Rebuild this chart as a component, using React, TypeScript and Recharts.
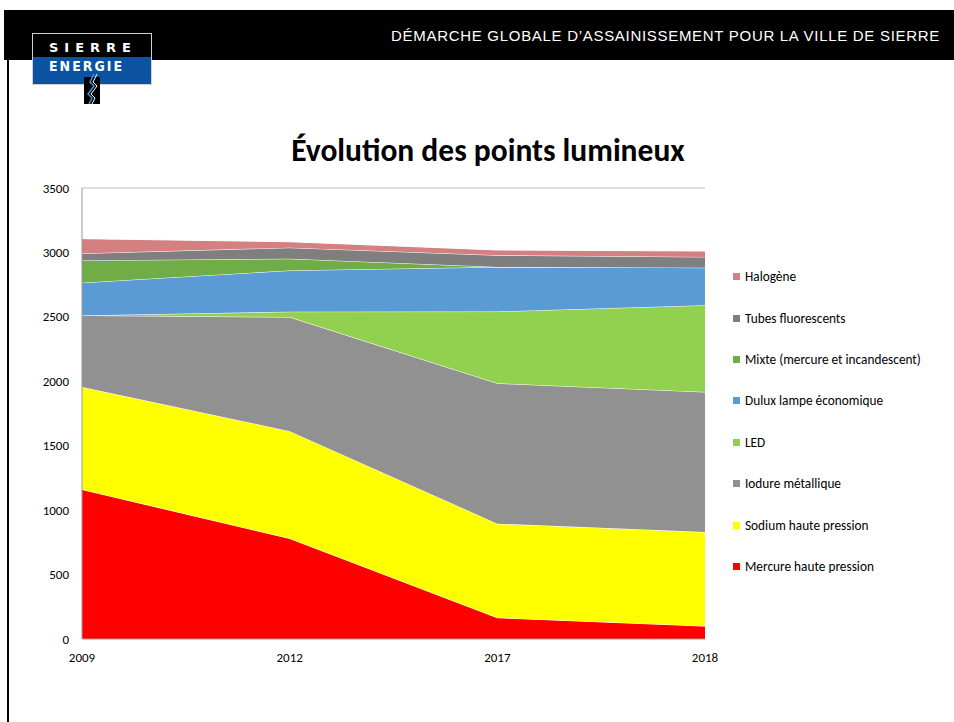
import React from 'react';
import { AreaChart, Area, XAxis, YAxis, Legend, ReferenceLine } from 'recharts';

const years = ['2009', '2012', '2017', '2018'];
const mercure = [1160, 780, 165, 100];
const sodium = [795, 833, 730, 730];
const iodure = [556, 885, 1089, 1087];
const led = [0, 42, 557, 673];
const dulux = [254, 320, 346, 292];
const mixte = [173, 91, 0, 0];
const tubes = [54, 86, 91, 83];
const halogene = [115, 46, 41, 46];
const yTicks = [0, 500, 1000, 1500, 2000, 2500, 3000, 3500];

const seriesNames = [
  'Mercure haute pression',
  'Sodium haute pression',
  'Iodure métallique',
  'LED',
  'Dulux lampe économique',
  'Mixte (mercure et incandescent)',
  'Tubes fluorescents',
  'Halogène',
];
const seriesValues = [mercure, sodium, iodure, led, dulux, mixte, tubes, halogene];
const seriesColors = ['#FF0000', '#FFFF00', '#919191', '#92D050', '#5B9BD5', '#70AD47', '#7F7F7F', '#D48080'];

const chartTitle = 'Évolution des points lumineux';
const headerText = 'DÉMARCHE GLOBALE D’ASSAINISSEMENT POUR LA VILLE DE SIERRE';

const data = years.map((y, i) => {
  const row: Record<string, string | number> = { year: y };
  seriesNames.forEach((n, k) => {
    row[n] = seriesValues[k][i];
  });
  return row;
});

const FONT = "Carlito, Lato, 'Open Sans', sans-serif";

const LegendContent = (props: any) => {
  const payload = [...(props.payload || [])].sort(
    (a: any, b: any) => seriesNames.indexOf(b.value) - seriesNames.indexOf(a.value)
  );
  return (
    <div style={{ fontFamily: FONT, fontSize: 13.3, color: '#000' }}>
      {payload.map((p: any) => (
        <div key={p.value} style={{ height: 41.4, display: 'flex', alignItems: 'center', whiteSpace: 'nowrap' }}>
          <span
            style={{
              display: 'inline-block',
              width: 7,
              height: 7,
              background: seriesColors[seriesNames.indexOf(p.value)],
              marginRight: 5,
            }}
          />
          <span>{p.value}</span>
        </div>
      ))}
    </div>
  );
};

export default function App() {
  return (
    <div style={{ position: 'absolute', left: 0, top: 0, width: 954, height: 722, background: '#fff', overflow: 'hidden' }}>
      {/* header band */}
      <div style={{ position: 'absolute', left: 4, top: 10, width: 950, height: 50, background: '#000' }} />
      <div
        style={{
          position: 'absolute',
          right: 14,
          top: 27,
          color: '#fff',
          fontFamily: "'Liberation Sans Narrow', 'Liberation Sans', sans-serif",
          fontSize: 15,
          letterSpacing: 0.7,
          whiteSpace: 'nowrap',
        }}
      >
        {headerText}
      </div>
      {/* left border */}
      <div style={{ position: 'absolute', left: 7, top: 60, width: 2, height: 662, background: '#000' }} />
      {/* logo */}
      <div style={{ position: 'absolute', left: 32, top: 33, width: 118, height: 50, border: '1px solid #d0d0d0', background: '#000' }} />
      <div style={{ position: 'absolute', left: 33, top: 57, width: 118, height: 27, background: '#0b52a0' }} />
      <div
        style={{
          position: 'absolute',
          left: 49,
          top: 41,
          color: '#fff',
          fontFamily: "'DejaVu Sans', sans-serif",
          fontWeight: 'bold',
          fontSize: 13,
          letterSpacing: 6,
          lineHeight: '13px',
        }}
      >
        SIERRE
      </div>
      <div
        style={{
          position: 'absolute',
          left: 49,
          top: 59,
          color: '#fff',
          fontFamily: "'DejaVu Sans Condensed', 'DejaVu Sans', sans-serif",
          fontWeight: 'bold',
          fontSize: 14,
          letterSpacing: 2,
          lineHeight: '14px',
        }}
      >
        ENERGIE
      </div>
      <svg style={{ position: 'absolute', left: 82, top: 74 }} width={20} height={30}>
        <rect x={2} y={3} width={16} height={27} fill="#000" />
        <polyline points="12,0 8,8 12,12 6,20 10,24 7,30" fill="none" stroke="#4a90d9" strokeWidth={1.5} />
        <polyline points="15,0 11,8 15,12 9,20 13,24 10,30" fill="none" stroke="#fff" strokeWidth={1} />
      </svg>
      {/* title */}
      <div
        style={{
          position: 'absolute',
          left: 0,
          width: 976,
          top: 131,
          textAlign: 'center',
          fontFamily: FONT,
          fontWeight: 'bold',
          fontSize: 31.5,
          lineHeight: '38px',
          color: '#000',
          whiteSpace: 'nowrap',
        }}
      >
        {chartTitle}
      </div>
      <div style={{ position: 'absolute', left: 0, top: 0 }}>
        <AreaChart width={954} height={722} data={data} margin={{ top: 188, right: 249, bottom: 53, left: 22 }}>
          <XAxis
            dataKey="year"
            height={30}
            tickLine={false}
            tickMargin={8}
            axisLine={{ stroke: '#999' }}
            tick={{ fill: '#000', fontSize: 13, fontFamily: FONT }}
            interval={0}
          />
          <YAxis
            width={60}
            domain={[0, 3500]}
            ticks={yTicks}
            tickLine={false}
            tickMargin={7}
            axisLine={{ stroke: '#999' }}
            tick={{ fill: '#000', fontSize: 13, fontFamily: FONT }}
            interval={0}
          />
          <ReferenceLine y={3500} stroke="#bfbfbf" strokeWidth={1} />
          {seriesNames.map((n, k) => (
            <Area
              key={n}
              type="linear"
              dataKey={n}
              stackId="1"
              stroke="#fff"
              strokeWidth={1}
              fill={seriesColors[k]}
              fillOpacity={1}
              isAnimationActive={false}
              dot={false}
              activeDot={false}
            />
          ))}
          <Legend
            layout="vertical"
            align="center"
            verticalAlign="middle"
            content={LegendContent}
            wrapperStyle={{ left: 733, top: 256, width: 215 }}
          />
        </AreaChart>
      </div>
    </div>
  );
}
